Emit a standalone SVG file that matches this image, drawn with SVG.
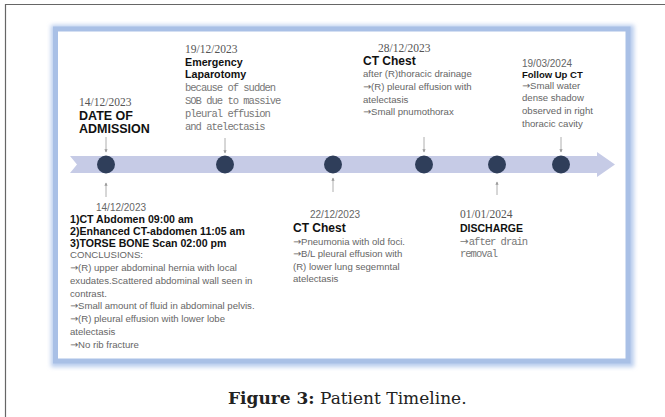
<svg xmlns="http://www.w3.org/2000/svg" width="665" height="417" viewBox="0 0 665 417">
<defs>
<filter id="soft" x="-5%" y="-5%" width="110%" height="110%"><feGaussianBlur stdDeviation="2"/></filter>
<marker id="tip" viewBox="0 0 6 6" refX="5" refY="3" markerWidth="4" markerHeight="4" orient="auto"><path d="M0,0 L6,3 L0,6 Z" fill="#9a9a9a"/></marker>
<style>
.date{font-family:"Liberation Serif",serif;font-size:11.5px;fill:#555}
.dates{font-family:"Liberation Sans",Arial,sans-serif;font-size:10px;fill:#666}
.h{font-family:"Liberation Sans",Arial,sans-serif;font-weight:bold;fill:#111}
.b{font-family:"Liberation Sans",Arial,sans-serif;font-size:9.6px;fill:#666}
.m{font-family:"Liberation Mono",monospace;font-size:10.5px;letter-spacing:-1px;fill:#777}
.ar{font-family:"DejaVu Sans",sans-serif;letter-spacing:0}
.dot{fill:#2f3e5a}
.con line{stroke:#9a9a9a;stroke-width:0.8;marker-end:url(#tip)}
</style>
</defs>
<rect width="665" height="417" fill="#fff"/>
<path d="M5.5,417 V4.5 H665" fill="none" stroke="#666" stroke-width="1.2"/>
<g id="frame">
<rect x="56" y="30" width="573" height="332" fill="none" stroke="#b9cdee" stroke-width="10" filter="url(#soft)"/>
<rect x="55.5" y="29" width="572.5" height="332" fill="#fff" stroke="#a9c0e6" stroke-width="5"/>
</g>
<g id="timeline">
<polygon points="70,156 597,156 597,152 615,164.5 597,177 597,173 70,173 77,164.5" fill="#c6cbe6"/>
</g>
<g class="con" id="connectors">
<line x1="106" y1="137" x2="106" y2="152"/>
<line x1="225" y1="138" x2="225" y2="153"/>
<line x1="424" y1="137" x2="424" y2="152"/>
<line x1="561" y1="137" x2="561" y2="152"/>
<line x1="106" y1="197" x2="106" y2="183"/>
<line x1="333" y1="192" x2="333" y2="178"/>
<line x1="497" y1="195" x2="497" y2="182"/>
</g>
<g id="admission">
<circle class="dot" cx="106" cy="164.5" r="9"/>
<text class="date" x="79" y="106">14/12/2023</text>
<text class="h" font-size="12.5" x="79" y="120">DATE OF</text>
<text class="h" font-size="12.5" x="79" y="133">ADMISSION</text>
</g>
<g id="laparotomy">
<circle class="dot" cx="225" cy="164.5" r="9"/>
<text class="date" x="185" y="53">19/12/2023</text>
<text class="h" font-size="10.7" x="185" y="66">Emergency</text>
<text class="h" font-size="10.7" x="185" y="78">Laparotomy</text>
<text class="m" x="185" y="91">because of sudden</text>
<text class="m" x="185" y="104">SOB due to massive</text>
<text class="m" x="185" y="117">pleural effusion</text>
<text class="m" x="185" y="130">and atelectasis</text>
</g>
<g id="ct-chest-22">
<circle class="dot" cx="333" cy="164.5" r="9"/>
<text class="dates" x="310" y="218">22/12/2023</text>
<text class="h" font-size="12" x="293" y="232">CT Chest</text>
<text class="b" x="293" y="244.5"><tspan class="ar">→</tspan>Pneumonia with old foci.</text>
<text class="b" x="293" y="257"><tspan class="ar">→</tspan>B/L pleural effusion with</text>
<text class="b" x="293" y="269.5">(R) lower lung segemntal</text>
<text class="b" x="293" y="282">atelectasis</text>
</g>
<g id="ct-chest-28">
<circle class="dot" cx="424" cy="164.5" r="9"/>
<text class="date" x="378" y="52">28/12/2023</text>
<text class="h" font-size="12" x="363" y="65">CT Chest</text>
<text class="b" x="363" y="77">after (R)thoracic drainage</text>
<text class="b" x="363" y="90"><tspan class="ar">→</tspan>(R) pleural effusion with</text>
<text class="b" x="363" y="102.5">atelectasis</text>
<text class="b" x="363" y="115"><tspan class="ar">→</tspan>Small pnumothorax</text>
</g>
<g id="discharge">
<circle class="dot" cx="497" cy="164.5" r="9"/>
<text class="date" x="460" y="218">01/01/2024</text>
<text class="h" font-size="10.5" x="460" y="232">DISCHARGE</text>
<text class="m" x="460" y="244.5"><tspan class="ar">→</tspan>after drain</text>
<text class="m" x="460" y="257">removal</text>
</g>
<g id="follow-up">
<circle class="dot" cx="561" cy="164.5" r="9"/>
<text class="dates" x="522" y="67">19/03/2024</text>
<text class="h" font-size="9.5" x="522" y="77.5">Follow Up CT</text>
<text class="b" x="522" y="88.5"><tspan class="ar">→</tspan>Small water</text>
<text class="b" x="522" y="101.3">dense shadow</text>
<text class="b" x="522" y="114">observed in right</text>
<text class="b" x="522" y="126.8">thoracic cavity</text>
</g>
<g id="ct-abdomen">
<text class="dates" x="96" y="211">14/12/2023</text>
<text class="h" font-size="10.6" x="70" y="223">1)CT Abdomen 09:00 am</text>
<text class="h" font-size="10.6" x="70" y="235">2)Enhanced CT-abdomen 11:05 am</text>
<text class="h" font-size="10.6" x="70" y="246.5">3)TORSE BONE Scan 02:00 pm</text>
<text class="b" x="70" y="258">CONCLUSIONS:</text>
<text class="b" x="70" y="270.9"><tspan class="ar">→</tspan>(R) upper abdominal hernia with local</text>
<text class="b" x="70" y="283.7">exudates.Scattered abdominal wall seen in</text>
<text class="b" x="70" y="296.6">contrast.</text>
<text class="b" x="70" y="309.4"><tspan class="ar">→</tspan>Small amount of fluid in abdominal pelvis.</text>
<text class="b" x="70" y="322.3"><tspan class="ar">→</tspan>(R) pleural effusion with lower lobe</text>
<text class="b" x="70" y="335.1">atelectasis</text>
<text class="b" x="70" y="348"><tspan class="ar">→</tspan>No rib fracture</text>
</g>
<text x="228" y="404" font-family="'DejaVu Serif',serif" font-size="17" fill="#222"><tspan font-weight="bold">Figure 3:</tspan> Patient Timeline.</text>
</svg>
